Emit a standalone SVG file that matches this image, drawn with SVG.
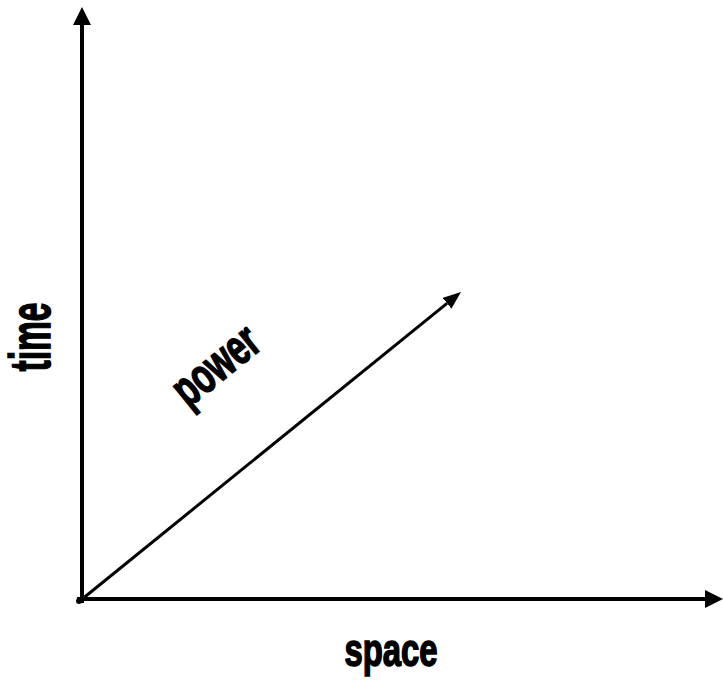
<svg xmlns="http://www.w3.org/2000/svg" width="723" height="686" viewBox="0 0 723 686">
<style>
.lbl{font-family:"Liberation Sans",Arial,sans-serif;font-weight:bold;fill:#000;stroke:#000;stroke-width:1.6;text-anchor:middle}
.ax{stroke:#000;stroke-width:4;fill:none}
.dg{stroke:#000;stroke-width:3;fill:none}
</style>
<defs>
<marker id="ah" markerUnits="userSpaceOnUse" viewBox="0 0 18 18" refX="0" refY="9" markerWidth="18" markerHeight="18" orient="auto"><path d="M0,0 L18,9 L0,18 z" fill="#000"/></marker>
<marker id="ah2" markerUnits="userSpaceOnUse" viewBox="0 0 18 14" refX="0" refY="7" markerWidth="18" markerHeight="14" orient="auto"><path d="M0,0 L18,7 L0,14 z" fill="#000"/></marker>
</defs>
<g id="connectors">
<path class="ax" d="M82,603 L82,25" marker-end="url(#ah)"/>
<path class="ax" d="M77,599 L705,599" marker-end="url(#ah)"/>
<path class="dg" d="M81,600 L447,303.3" marker-end="url(#ah2)"/>
<circle cx="79" cy="601" r="3" fill="#000"/>
</g>
<g id="time"><text class="lbl" font-size="57" transform="translate(50,337) rotate(-90) scale(0.59,1)">time</text></g>
<g id="space"><text class="lbl" font-size="47" transform="translate(391,666) scale(0.7,1)">space</text></g>
<g id="power"><text class="lbl" font-size="50" transform="translate(226,378) rotate(-39) scale(0.66,1)">power</text></g>
</svg>
